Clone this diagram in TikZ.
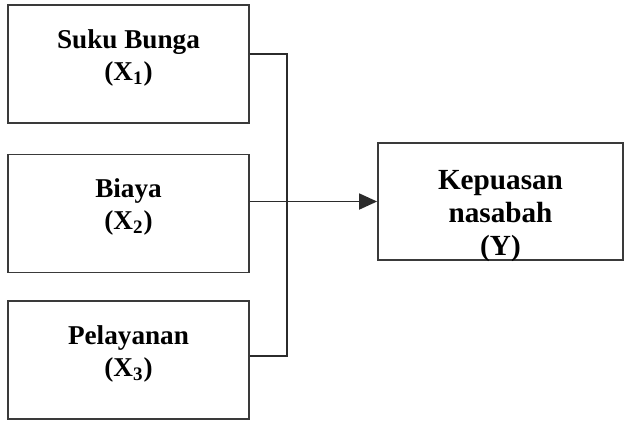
\documentclass[tikz,border=0pt]{standalone}
\usepackage{fontspec}
\setmainfont{Liberation Serif}
\usetikzlibrary{arrows.meta,positioning,calc}
\definecolor{pline}{HTML}{2B2B2B}
\definecolor{pbox}{HTML}{3A3A3A}

\begin{document}
\begin{tikzpicture}[x=0.5pt,y=-0.5pt,
    varbox/.style={draw=pbox,line width=0.9pt,minimum width=120.5pt,minimum height=59pt,inner sep=0pt},
    vartext/.style={align=center,inner sep=0pt,font=\bfseries\fontsize{13.6}{16}\selectfont},
    link/.style={draw=pline,line width=0.9pt}]
  \useasboundingbox (0,0) rectangle (631,446);
  % variabel bebas
  \node[varbox] (x1) at (128.5,64) {};
  \node[varbox] (x2) at (128.5,213.5) {};
  \node[varbox] (x3) at (128.5,360) {};
  \node[vartext] (t1) at (128.5,58) {Suku Bunga\\(X\textsubscript{1})};
  \node[vartext] (t2) at (128.5,206.5) {Biaya\\(X\textsubscript{2})};
  \node[vartext] (t3) at (128.5,354) {Pelayanan\\(X\textsubscript{3})};
  % variabel terikat
  \node[varbox,minimum width=122.5pt,minimum height=58.5pt] (y) at (500.5,201.5) {};
  \node[vartext,font=\bfseries\fontsize{14.6}{16.5}\selectfont] (ty) at (500.5,216) {Kepuasan\\nasabah\\(Y)};
  % garis penghubung
  \coordinate (bus) at (287,202);
  \draw[link] (x1.east |- 0,54) -| (bus) |- (x3.east |- 0,356);
  \draw[link,-{Triangle[length=9pt,width=8pt]}] (y.west -| x2.east) -- (y.west);
\end{tikzpicture}
\end{document}
